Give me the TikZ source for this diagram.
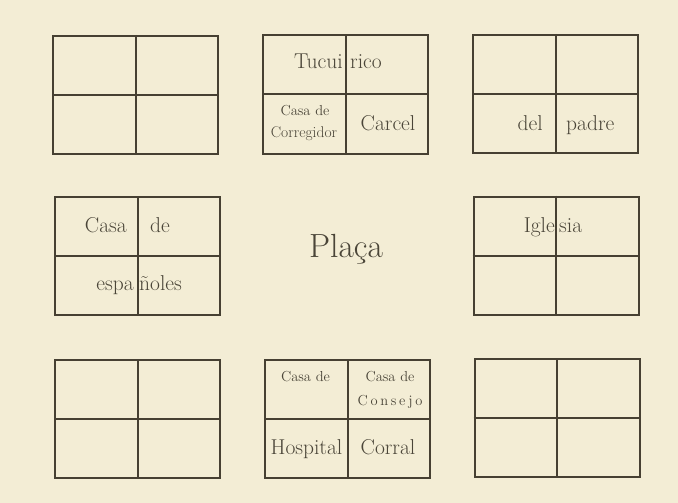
\documentclass[tikz,border=0pt]{standalone}
\usepackage{fontspec}
\definecolor{paper}{RGB}{243,237,213}
\definecolor{ink}{RGB}{70,64,50}
\definecolor{txt}{RGB}{74,69,56}
\begin{document}
\begin{tikzpicture}[x=1pt,y=-1pt,
  blk/.style={draw=ink,line width=2pt,minimum width=165pt,minimum height=118pt,inner sep=0pt},
  div/.style={draw=ink,line width=2pt},
  lbl/.style={text=txt,font=\fontsize{21.5}{22}\selectfont,inner sep=0pt},
  sml/.style={text=txt,font=\fontsize{14.5}{15}\selectfont,inner sep=0pt},
  big/.style={text=txt,font=\fontsize{33.5}{34}\selectfont,inner sep=0pt}]
\fill[paper] (0,0) rectangle (678,503);
\useasboundingbox (0,0) rectangle (678,503);
% blocks
\node[blk] (b1) at (135.5,95) {};
\node[blk] (b2) at (345.5,94.5) {};
\node[blk] (b3) at (555.5,94) {};
\node[blk] (b4) at (137.5,256) {};
\node[blk] (b5) at (556,255.5) {};
\node[blk] (b6) at (347.5,419) {};
\node[blk] (b7) at (137.5,419) {};
\node[blk] (b8) at (557,418) {};
\foreach \b in {b1,b2,b3,b4,b5,b6,b7,b8}{
  \draw[div] (\b.north) -- (\b.south);
  \draw[div] (\b.west) -- (\b.east);
}
% labels
\node[lbl,anchor=base east] (tuc) at (343,69) {Tucui};
\node[lbl,anchor=base west] (ric) at (350,69) {rico};
\node[sml,anchor=base] (cc1) at (305,115) {Casa de};
\node[sml,anchor=base,font=\fontsize{15.5}{16}\selectfont] (cc2) at (304,138) {Corregidor};
\node[lbl,anchor=base] (car) at (388,130) {Carcel};
\node[lbl,anchor=base east] (del) at (543,130) {del};
\node[lbl,anchor=base west] (pad) at (566,130) {padre};
\node[lbl,anchor=base east] (cas) at (127,232) {Casa};
\node[lbl,anchor=base west] (de) at (150,232) {de};
\node[lbl,anchor=base east] (esp) at (134,290) {espa};
\node[lbl,anchor=base west] (nol) at (139,290) {ñoles};
\node[lbl,anchor=base east] (igl) at (555,232) {Igle};
\node[lbl,anchor=base west] (sia) at (559,232) {sia};
\node[big,anchor=base] (pla) at (346,257) {Plaça};
\node[sml,anchor=base] (ch1) at (305.5,381) {Casa de};
\node[sml,anchor=base] (cs1) at (390,381) {Casa de};
\node[sml,anchor=base] (cs2) at (390,405) {C\kern2.7pt o\kern2.7pt n\kern2.7pt s\kern2.7pt e\kern2.7pt j\kern2.7pt o};
\node[lbl,anchor=base] (hos) at (306.5,454) {Hospital};
\node[lbl,anchor=base] (cor) at (388,454) {Corral};
\end{tikzpicture}
\end{document}
